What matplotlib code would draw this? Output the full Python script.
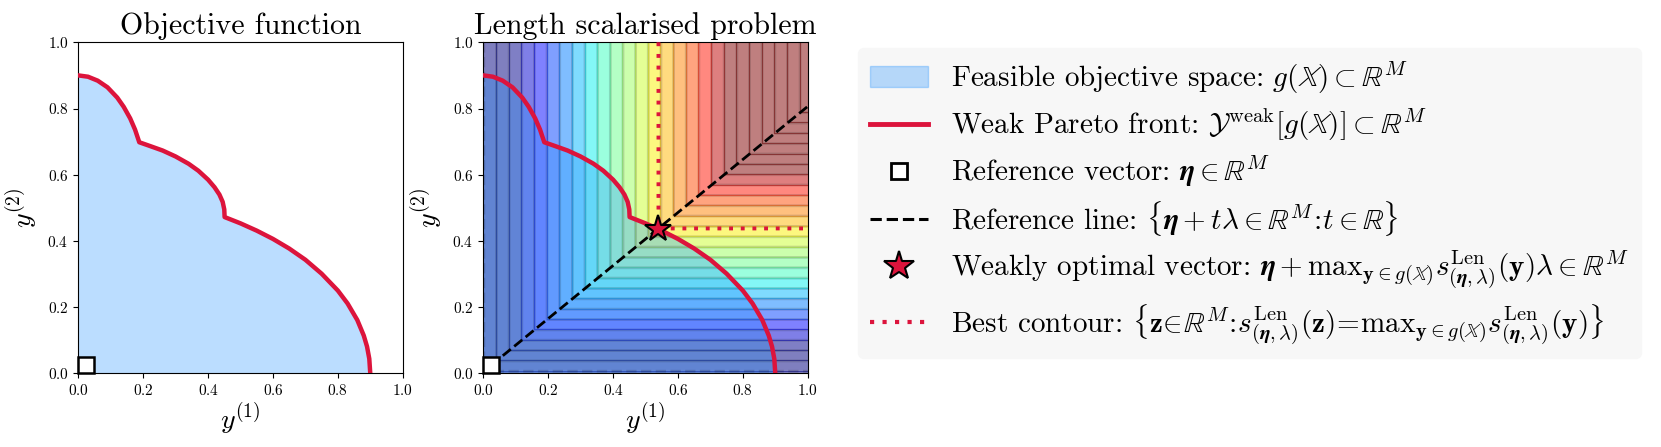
import numpy as np
import matplotlib
matplotlib.use("Agg")
import matplotlib.pyplot as plt
from matplotlib.colors import Normalize
from matplotlib.lines import Line2D
from matplotlib.patches import Patch

plt.rcParams['font.family'] = 'serif'
plt.rcParams['font.serif'] = ['cmr10']
plt.rcParams['mathtext.fontset'] = 'cm'
plt.rcParams['axes.formatter.use_mathtext'] = True

# weak Pareto front (y1, y2)
front_y1 = [0.000, 0.030, 0.060, 0.090, 0.120, 0.140, 0.160, 0.175, 0.188,
            0.220, 0.260, 0.300, 0.340, 0.370, 0.400, 0.420, 0.435, 0.445, 0.450,
            0.451, 0.500, 0.550, 0.600, 0.650, 0.700, 0.750, 0.800, 0.830, 0.860,
            0.880, 0.890, 0.897, 0.900]
front_y2 = [0.900, 0.896, 0.884, 0.864, 0.833, 0.805, 0.770, 0.736, 0.698,
            0.687, 0.673, 0.655, 0.633, 0.612, 0.585, 0.562, 0.540, 0.518, 0.495,
            0.472, 0.453, 0.431, 0.406, 0.377, 0.343, 0.301, 0.250, 0.211, 0.161,
            0.114, 0.081, 0.044, 0.000]

eta = [0.025, 0.025]          # reference vector
lam = [0.78, 0.625]           # direction
star = [0.54, 0.437]          # weakly optimal vector
level_step = 0.05
level_offset = 0.02
color_range = [0.083, 0.942]  # s values mapped to the ends of the colormap

crimson = '#dc143c'
feasible_col = 'dodgerblue'

fig = plt.figure(figsize=(16.61, 4.47), dpi=100)
ax1 = fig.add_axes([78.3 / 1661, 1 - 373.3 / 447, 324.4 / 1661, 331 / 447])
ax2 = fig.add_axes([483.3 / 1661, 1 - 373.3 / 447, 324.4 / 1661, 331 / 447])

poly_x = front_y1 + [0.0]
poly_y = front_y2 + [0.0]

# left: objective function
ax1.fill(poly_x, poly_y, color=feasible_col, alpha=0.3, lw=0)
ax1.plot(front_y1, front_y2, color=crimson, lw=3.2, zorder=3)
ax1.plot(eta[0], eta[1], 's', ms=11, mfc='white', mec='black', mew=1.8,
         zorder=5, clip_on=False)
ax1.set_title('Objective function', fontsize=21.5)

# right: length scalarised problem
g = np.linspace(0, 1, 501)
Z1, Z2 = np.meshgrid(g, g)
S = np.minimum((Z1 - eta[0]) / lam[0], (Z2 - eta[1]) / lam[1])
levels = level_offset + level_step * np.arange(-3, 27)
norm = Normalize(color_range[0], color_range[1], clip=True)
ax2.contourf(Z1, Z2, S, levels=levels, cmap='jet', norm=norm, alpha=0.5)
ax2.contour(Z1, Z2, S, levels=levels, colors='k', alpha=0.15, linewidths=2)
ax2.fill(poly_x, poly_y, color=feasible_col, alpha=0.3, lw=0)
ax2.plot(front_y1, front_y2, color=crimson, lw=3.2, zorder=3)

s_star = (star[0] - eta[0]) / lam[0]
ax2.contour(Z1, Z2, S, levels=[s_star], colors=crimson, linewidths=2.8,
            linestyles=[(0, (1, 2))], zorder=4)
t_end = (1 - eta[0]) / lam[0]
ax2.plot([eta[0], eta[0] + t_end * lam[0]], [eta[1], eta[1] + t_end * lam[1]],
         'k--', lw=2, zorder=4)
ax2.plot(star[0], star[1], '*', ms=20, mfc=crimson, mec='black', mew=1.5, zorder=6)
ax2.plot(eta[0], eta[1], 's', ms=11, mfc='white', mec='black', mew=1.8,
         zorder=6, clip_on=False)
ax2.set_title('Length scalarised problem', fontsize=21.5)

for ax in (ax1, ax2):
    ax.set_xlim(0, 1)
    ax.set_ylim(0, 1)
    ax.set_xlabel('$y^{(1)}$', fontsize=20, labelpad=2)
    ax.set_ylabel('$y^{(2)}$', fontsize=20, labelpad=6)
    ax.tick_params(labelsize=11)

handles = [
    Patch(facecolor=feasible_col, edgecolor=feasible_col, alpha=0.3),
    Line2D([], [], color=crimson, lw=3.5),
    Line2D([], [], ls='none', marker='s', ms=12, mfc='white', mec='black', mew=2),
    Line2D([], [], color='k', ls='--', lw=2.2),
    Line2D([], [], ls='none', marker='*', ms=22, mfc=crimson, mec='black', mew=1.5),
    Line2D([], [], color=crimson, lw=3, ls=(0, (1, 2))),
]
labels = [
    r'Feasible objective space: $g(\mathbb{X}) \subset \mathbb{R}^M$',
    r'Weak Pareto front: $\mathcal{Y}^{\mathrm{weak}}[g(\mathbb{X})] \subset \mathbb{R}^M$',
    r'Reference vector: $\boldsymbol{\eta} \in \mathbb{R}^M$',
    r'Reference line: $\{\boldsymbol{\eta} + t\boldsymbol{\lambda} \in \mathbb{R}^M \!:\! t \in \mathbb{R}\}$',
    r'Weakly optimal vector: $\boldsymbol{\eta} + \mathrm{max}_{\mathbf{y}\in g(\mathbb{X})}'
    r's^{\mathrm{Len}}_{(\boldsymbol{\eta},\boldsymbol{\lambda})}(\mathbf{y}) \boldsymbol{\lambda} \in \mathbb{R}^M$',
    r'Best contour: $\{\mathbf{z} \!\in\! \mathbb{R}^M \!:\! s^{\mathrm{Len}}_{(\boldsymbol{\eta},\boldsymbol{\lambda})}(\mathbf{z}) \!=\! '
    r'\mathrm{max}_{\mathbf{y}\in g(\mathbb{X})}s^{\mathrm{Len}}_{(\boldsymbol{\eta},\boldsymbol{\lambda})}(\mathbf{y})\}$',
]
leg = fig.legend(handles, labels, loc='upper left', bbox_to_anchor=(858 / 1661, 1 - 48 / 447),
                 fontsize=21, labelspacing=0.36, handlelength=2.0,
                 borderaxespad=0, facecolor='#f7f7f7', edgecolor='#f7f7f7', framealpha=1)

fig.savefig('out.png', dpi=100)
